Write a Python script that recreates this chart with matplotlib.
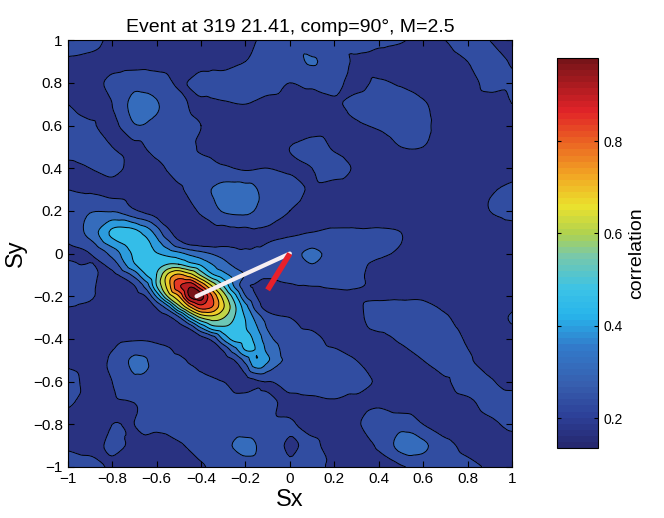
import numpy as np
import matplotlib
matplotlib.use('Agg')
import matplotlib.pyplot as plt
import matplotlib.tri as mtri
from matplotlib.colors import LinearSegmentedColormap, Normalize
from matplotlib.cm import ScalarMappable

plt.rcParams['font.family'] = ['Liberation Sans', 'DejaVu Sans']

# coarse grid (correlation x 100), rows from Sy=1 down to Sy=-1
sx_coarse = [-1.0, -0.9, -0.8, -0.7, -0.6, -0.5, -0.4, -0.3, -0.2, -0.1, 0.0,
             0.1, 0.2, 0.3, 0.4, 0.5, 0.6, 0.7, 0.8, 0.9, 1.0]
sy_coarse = [1.0, 0.9, 0.8, 0.7, 0.6, 0.5, 0.4, 0.3, 0.2, 0.1, 0.0,
             -0.1, -0.2, -0.3, -0.4, -0.5, -0.6, -0.7, -0.8, -0.9, -1.0]
corr_coarse = [
    [24, 23, 18, 16, 19, 16, 15, 16, 18, 22, 25, 22, 21, 23, 23, 21, 17, 20, 25, 20, 17],
    [19, 18, 17, 17, 17, 16, 16, 16, 20, 24, 25, 28, 24, 19, 16, 15, 15, 16, 20, 24, 19],
    [16, 17, 22, 25, 24, 19, 24, 25, 25, 24, 20, 22, 22, 18, 21, 19, 16, 15, 16, 23, 21],
    [20, 17, 20, 30, 28, 22, 18, 19, 20, 17, 16, 15, 19, 22, 25, 25, 21, 16, 15, 16, 20],
    [24, 21, 18, 27, 26, 24, 20, 16, 15, 15, 16, 16, 17, 19, 21, 24, 22, 16, 15, 15, 16],
    [24, 24, 20, 18, 23, 25, 19, 16, 15, 16, 20, 23, 19, 16, 16, 20, 20, 16, 15, 15, 15],
    [18, 20, 23, 17, 18, 23, 23, 21, 19, 20, 19, 20, 23, 19, 16, 15, 15, 15, 15, 15, 16],
    [20, 19, 17, 16, 17, 19, 25, 30, 30, 25, 23, 19, 17, 16, 15, 15, 15, 15, 16, 19, 22],
    [24, 27, 27, 21, 16, 16, 21, 28, 29, 24, 20, 17, 16, 15, 15, 15, 15, 15, 15, 20, 23],
    [22, 30, 44, 45, 32, 17, 16, 17, 18, 19, 19, 20, 21, 21, 21, 20, 16, 15, 15, 15, 16],
    [19, 20, 30, 44, 40, 36, 30, 25, 22, 22, 25, 29, 25, 24, 21, 19, 15, 15, 15, 15, 15],
    [23, 22, 18, 30, 49, 74, 56, 40, 28, 22, 23, 24, 24, 22, 16, 15, 15, 15, 15, 15, 15],
    [23, 21, 16, 16, 34, 70, 98, 62, 24, 17, 16, 17, 18, 19, 19, 19, 19, 16, 15, 15, 15],
    [17, 16, 16, 15, 16, 25, 58, 58, 42, 24, 20, 17, 16, 18, 24, 25, 24, 21, 16, 16, 21],
    [16, 16, 18, 19, 18, 16, 16, 36, 45, 28, 24, 22, 18, 16, 18, 21, 24, 24, 19, 16, 16],
    [18, 17, 21, 29, 24, 22, 16, 16, 30, 36, 25, 24, 23, 20, 16, 17, 20, 24, 21, 16, 15],
    [23, 18, 20, 26, 25, 24, 23, 20, 17, 20, 23, 24, 24, 23, 19, 15, 17, 19, 24, 21, 17],
    [21, 18, 19, 20, 23, 23, 24, 25, 24, 22, 18, 18, 19, 18, 19, 16, 15, 16, 18, 23, 24],
    [17, 18, 20, 20, 22, 24, 24, 24, 24, 22, 21, 17, 15, 19, 24, 25, 20, 16, 15, 18, 22],
    [19, 18, 21, 19, 16, 19, 23, 26, 29, 25, 19, 22, 16, 16, 21, 30, 29, 22, 18, 15, 16],
    [24, 23, 19, 17, 15, 16, 19, 24, 25, 24, 21, 21, 19, 16, 16, 19, 22, 23, 22, 19, 15],
]

# finer readings around the main peak (correlation x 100)
sx_fine = [-0.7, -0.65, -0.6, -0.55, -0.5, -0.45, -0.4, -0.35, -0.3, -0.25, -0.2, -0.15, -0.1]
sy_fine = [0.1, 0.05, 0.0, -0.05, -0.1, -0.15, -0.2, -0.25, -0.3, -0.35, -0.4, -0.45, -0.5]
corr_fine = [
    [45, 40, 32, 22, 17, 16, 16, 17, 17, 18, 18, 19, 19],
    [46, 45, 38, 30, 22, 18, 17, 17, 18, 18, 19, 19, 20],
    [44, 46, 43, 40, 37, 33, 30, 27, 25, 23, 21, 22, 22],
    [42, 45, 47, 50, 50, 45, 41, 35, 30, 26, 23, 22, 23],
    [30, 42, 50, 66, 74, 68, 56, 44, 38, 32, 27, 24, 21],
    [20, 30, 50, 68, 86, 93, 80, 64, 50, 34, 22, 19, 18],
    [17, 20, 36, 58, 72, 96, 98, 80, 62, 46, 28, 20, 17],
    [15, 17, 21, 32, 54, 72, 84, 80, 66, 52, 38, 24, 17],
    [15, 15, 16, 18, 26, 44, 58, 62, 58, 50, 42, 32, 24],
    [15, 15, 15, 16, 17, 21, 34, 45, 48, 47, 43, 36, 27],
    [19, 19, 18, 17, 16, 16, 17, 22, 36, 45, 45, 40, 30],
    [25, 25, 23, 21, 18, 16, 15, 17, 21, 32, 43, 42, 33],
    [29, 28, 24, 23, 22, 19, 16, 15, 16, 20, 30, 42, 36],
]

# back-azimuth lines
white_x = [-0.42, 0.0]
white_y = [-0.20, 0.0]
red_x = [0.0, -0.10]
red_y = [0.0, -0.17]

levels = [0.13, 0.2, 0.275, 0.35, 0.425, 0.5, 0.575, 0.65, 0.725, 0.8, 0.875, 0.95, 1.0]
tick_vals = [-1, -0.8, -0.6, -0.4, -0.2, 0, 0.2, 0.4, 0.6, 0.8, 1]
tick_labels = ['\u22121', '\u22120.8', '\u22120.6', '\u22120.4', '\u22120.2', '0',
               '0.2', '0.4', '0.6', '0.8', '1']

# washed-out jet as printed
cmap_vals = [0.135, 0.2, 0.27, 0.35, 0.42, 0.48, 0.55, 0.6, 0.66, 0.73, 0.8, 0.87, 0.98]
cmap_rgb = [(38, 40, 112), (45, 64, 152), (55, 95, 175), (50, 122, 202), (40, 180, 235),
            (60, 195, 230), (120, 200, 170), (175, 210, 80), (235, 225, 45),
            (242, 165, 35), (235, 100, 35), (225, 35, 40), (120, 20, 25)]
vmin, vmax = 0.135, 0.98
anchors = [((v - vmin) / (vmax - vmin), tuple(c / 255 for c in rgb))
           for v, rgb in zip(cmap_vals, cmap_rgb)]
cmap = LinearSegmentedColormap.from_list('printjet', anchors, N=64)
norm = Normalize(vmin=vmin, vmax=vmax)

# build scattered points: coarse grid minus the fine patch
Xc, Yc = np.meshgrid(sx_coarse, sy_coarse)
Zc = np.array(corr_coarse) / 100.0
inside = ((Xc >= -0.7 - 1e-9) & (Xc <= -0.1 + 1e-9) &
          (Yc >= -0.5 - 1e-9) & (Yc <= 0.1 + 1e-9))
Xf, Yf = np.meshgrid(sx_fine, sy_fine)
Zf = np.array(corr_fine) / 100.0
x = np.concatenate([Xc[~inside], Xf.ravel()])
y = np.concatenate([Yc[~inside], Yf.ravel()])
z = np.concatenate([Zc[~inside], Zf.ravel()])

tri = mtri.Triangulation(x, y)
refiner = mtri.UniformTriRefiner(tri)
interp = mtri.CubicTriInterpolator(tri, z, kind='geom')
tri_r, z_r = refiner.refine_field(z, triinterpolator=interp, subdiv=3)

fig = plt.figure(figsize=(6.64, 5.18), dpi=100)
ax = fig.add_axes([0.102, 0.0985, 0.669, 0.824])
ax.tricontourf(tri_r, z_r, levels=levels, cmap=cmap, norm=norm, extend='both')
ax.tricontour(tri_r, z_r, levels=levels[1:-1], colors='k', linewidths=0.7)

ax.plot(white_x, white_y, color='#f6eef2', lw=3, solid_capstyle='round')
ax.plot(red_x, red_y, color='#e8202a', lw=4, solid_capstyle='butt')

ax.set_xlim(-1, 1)
ax.set_ylim(-1, 1)
ax.set_xticks(tick_vals)
ax.set_xticklabels(tick_labels)
ax.set_yticks(tick_vals)
ax.set_yticklabels(tick_labels)
ax.tick_params(direction='in', top=True, right=True, length=4, labelsize=11)
ax.set_xlabel('Sx', fontsize=17, labelpad=2)
ax.set_ylabel('Sy', fontsize=17, labelpad=4)
ax.set_title('Event at 319 21.41, comp=90\u00b0, M=2.5', fontsize=14, pad=6)

cax = fig.add_axes([0.839, 0.135, 0.062, 0.753])
sm = ScalarMappable(norm=norm, cmap=cmap)
cb = fig.colorbar(sm, cax=cax)
cb.set_ticks([0.2, 0.4, 0.6, 0.8])
cb.ax.tick_params(direction='in', left=True, right=True, length=3, labelsize=10)
cb.set_label('correlation', fontsize=14)

fig.savefig('out.png', dpi=100)
